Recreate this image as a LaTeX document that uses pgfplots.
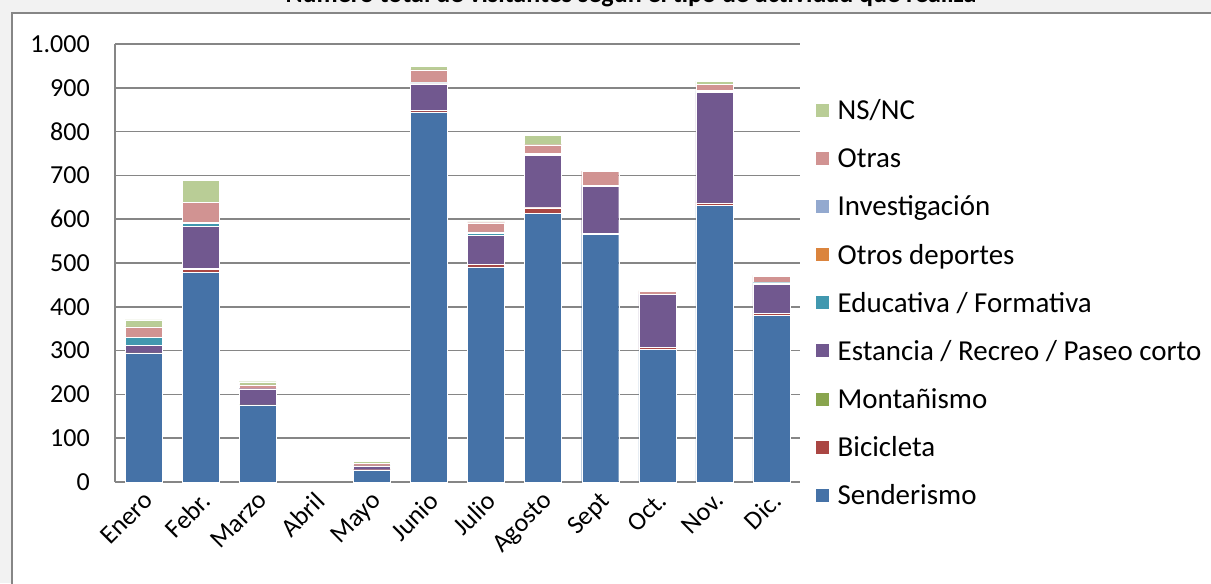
\documentclass[border=0pt]{standalone}
\usepackage{pgfplots}
\pgfplotsset{compat=1.18}
\usepackage{pgfplotstable}
\usepackage{fontspec}
\setmainfont{Carlito}

\definecolor{cSen}{HTML}{4572A7}
\definecolor{cBic}{HTML}{AA4643}
\definecolor{cMon}{HTML}{89A54E}
\definecolor{cEst}{HTML}{71588F}
\definecolor{cEdu}{HTML}{4198AF}
\definecolor{cOtd}{HTML}{DB843D}
\definecolor{cInv}{HTML}{93A9CF}
\definecolor{cOtr}{HTML}{D19392}
\definecolor{cNs}{HTML}{B9CD96}
\definecolor{gridgrey}{HTML}{868686}
\definecolor{band}{HTML}{F2F2F2}

% x Sen Bic Mon Est Edu Otd Inv Otr Ns
\pgfplotstableread{
x Sen Bic Mon Est Edu Otd Inv Otr Ns
0  294  0 1  17 18 0 0 24 16
1  478  8 2  96  6 0 3 45 50
2  175  0 1  37  0 0 0  9  7
3    0  0 0   0  0 0 0  0  0
4   27  1 0   8  1 0 0  5  5
5  845  4 0  60  2 0 1 29  8
6  491  6 0  66  5 0 3 21  2
7  614 12 1 119  2 0 2 20 22
8  565  0 2 108  2 0 1 32  0
9  303  4 0 121  0 0 1  6  2
10 631  6 0 252  3 0 2 14  7
11 380  5 0  67  3 0 1 13  3
}\datos

\newcommand{\fs}{\fontsize{19.5}{23}\selectfont}
\newcommand{\fl}{\fontsize{21.7}{25}\selectfont}

\begin{document}
\begin{tikzpicture}
\useasboundingbox (0,0) rectangle (908.25pt,437.25pt);
\clip (0,0) rectangle (908.25pt,437.25pt);
\fill[band] (0,0) rectangle (908.25pt,437.25pt);
\fill[white] (9pt,-5pt) rectangle (920pt,427.5pt);
\draw[gridgrey, line width=1.5pt] (9pt,-5pt) -- (9pt,427.5pt) -- (920pt,427.5pt);
\node[font=\bfseries\fs, anchor=base, inner sep=0pt] at (473.25pt,435.5pt)
  {Número total de visitantes según el tipo de actividad que realiza};
\begin{axis}[
  at={(86.25pt,75.75pt)}, anchor=south west,
  scale only axis, width=513.75pt, height=328.5pt,
  ybar stacked, bar width=27.75pt,
  xmin=-0.5, xmax=11.5, ymin=0, ymax=1000,
  ytick={0,100,...,1000},
  xtick=data,
  xticklabels={Enero,Febr.,Marzo,Abril,Mayo,Junio,Julio,Agosto,Sept,Oct.,Nov.,Dic.},
  axis x line*=bottom, axis y line*=left,
  axis line style={gridgrey, line width=1.5pt, -},
  ymajorgrids, grid style={gridgrey, line width=1.2pt},
  major tick length=0pt,
  /pgf/number format/assume math mode=true,
  /pgf/number format/1000 sep={.},
  ticklabel style={font=\fs},
  yticklabel style={inner sep=0pt, xshift=-18.75pt},
  xticklabel style={rotate=45, anchor=north east, inner sep=0pt, xshift=-5pt, yshift=-3.6pt},
  reverse legend,
  legend cell align=left,
  legend image code/.code={\fill[#1] (0pt,-3pt) rectangle (10.5pt,7.5pt);},
  legend style={draw=none, fill=none, font=\fl, inner sep=0pt,
    at={(1.0219,0.8705)}, anchor=north west, row sep=18.1pt,
    nodes={inner sep=0pt, text height=14pt, text depth=4pt},
    /tikz/every odd column/.append style={column sep=6pt}},
  every axis plot/.append style={draw=white, line width=0.3pt},
]
\addplot[fill=cSen] table[x=x,y=Sen]{\datos};
\addplot[fill=cBic] table[x=x,y=Bic]{\datos};
\addplot[fill=cMon] table[x=x,y=Mon]{\datos};
\addplot[fill=cEst] table[x=x,y=Est]{\datos};
\addplot[fill=cEdu] table[x=x,y=Edu]{\datos};
\addplot[fill=cOtd] table[x=x,y=Otd]{\datos};
\addplot[fill=cInv] table[x=x,y=Inv]{\datos};
\addplot[fill=cOtr] table[x=x,y=Otr]{\datos};
\addplot[fill=cNs] table[x=x,y=Ns]{\datos};
\legend{Senderismo,Bicicleta,Montañismo,Estancia / Recreo / Paseo corto,Educativa / Formativa,Otros deportes,Investigación,Otras,NS/NC}
\end{axis}
\end{tikzpicture}
\end{document}
